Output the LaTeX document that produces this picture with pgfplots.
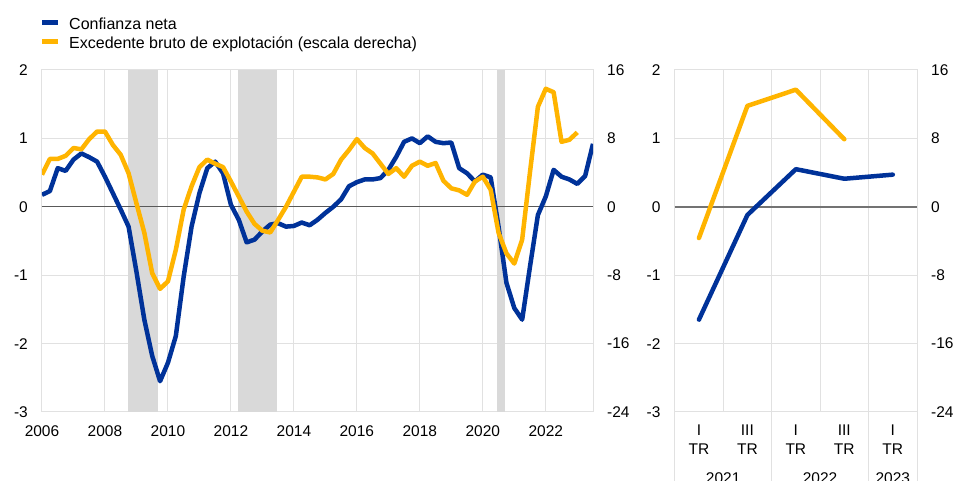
\documentclass[border=0pt]{standalone}
\usepackage{pgfplots}
\pgfplotsset{compat=1.18}
\usepackage{fontspec}
\setmainfont{Liberation Sans}
\definecolor{ecbblue}{HTML}{003299}
\definecolor{ecbyellow}{HTML}{FFB400}
\definecolor{gridgray}{HTML}{E1E1E1}
\definecolor{shadegray}{HTML}{D9D9D9}
\definecolor{zerogray}{HTML}{595959}
\definecolor{zerogray2}{HTML}{737373}

\pgfplotstableread{
x y
2006.00 0.175
2006.25 0.23
2006.50 0.565
2006.75 0.525
2007.00 0.69
2007.25 0.78
2007.50 0.725
2007.75 0.66
2008.00 0.44
2008.25 0.20
2008.50 -0.04
2008.75 -0.29
2009.00 -0.95
2009.25 -1.65
2009.50 -2.18
2009.75 -2.55
2010.00 -2.28
2010.25 -1.89
2010.50 -1.02
2010.75 -0.29
2011.00 0.20
2011.25 0.565
2011.50 0.66
2011.75 0.49
2012.00 0.03
2012.25 -0.19
2012.50 -0.52
2012.75 -0.48
2013.00 -0.36
2013.25 -0.26
2013.50 -0.24
2013.75 -0.29
2014.00 -0.28
2014.25 -0.23
2014.50 -0.27
2014.75 -0.19
2015.00 -0.09
2015.25 0.0
2015.50 0.11
2015.75 0.30
2016.00 0.36
2016.25 0.40
2016.50 0.40
2016.75 0.42
2017.00 0.54
2017.25 0.73
2017.50 0.95
2017.75 1.00
2018.00 0.93
2018.25 1.03
2018.50 0.95
2018.75 0.93
2019.00 0.94
2019.25 0.565
2019.50 0.49
2019.75 0.37
2020.00 0.47
2020.25 0.43
2020.50 -0.29
2020.75 -1.11
2021.00 -1.48
2021.25 -1.65
2021.50 -0.87
2021.75 -0.12
2022.00 0.15
2022.25 0.54
2022.50 0.44
2022.75 0.40
2023.00 0.335
2023.25 0.45
2023.50 0.92
}\confianza

\pgfplotstableread{
x y
2006.00 3.76
2006.25 5.6
2006.50 5.6
2006.75 5.96
2007.00 6.88
2007.25 6.72
2007.50 7.92
2007.75 8.8
2008.00 8.8
2008.25 7.24
2008.50 6.08
2008.75 3.92
2009.00 0.4
2009.25 -3.04
2009.50 -7.76
2009.75 -9.6
2010.00 -8.72
2010.25 -5.04
2010.50 -0.32
2010.75 2.4
2011.00 4.64
2011.25 5.52
2011.50 5.04
2011.75 4.64
2012.00 2.96
2012.25 1.2
2012.50 -0.56
2012.75 -2.0
2013.00 -2.8
2013.25 -3.0
2013.50 -1.52
2013.75 0.0
2014.00 1.76
2014.25 3.52
2014.50 3.52
2014.75 3.44
2015.00 3.2
2015.25 3.84
2015.50 5.52
2015.75 6.64
2016.00 7.92
2016.25 6.88
2016.50 6.24
2016.75 5.04
2017.00 3.84
2017.25 4.52
2017.50 3.52
2017.75 4.8
2018.00 5.28
2018.25 4.8
2018.50 5.12
2018.75 3.04
2019.00 2.16
2019.25 1.92
2019.50 1.4
2019.75 2.96
2020.00 3.52
2020.25 2.0
2020.50 -3.04
2020.75 -5.44
2021.00 -6.64
2021.25 -3.84
2021.50 4.1
2021.75 11.7
2022.00 13.8
2022.25 13.4
2022.50 7.6
2022.75 7.84
2023.00 8.7
}\excedente

\pgfplotstableread{
x y
0 -1.65
1 -0.12
2 0.55
3 0.41
4 0.47
}\confq

\pgfplotstableread{
x y
0 -3.66
1 11.8
2 13.7
3 7.9
}\excq

\tikzset{myfont/.style={font=\fontsize{15.5}{18.6}\selectfont},
         legfont/.style={font=\fontsize{16}{19}\selectfont}}
\pgfplotsset{
  common/.style={
    scale only axis, height=342pt,
    ymin=-3, ymax=2, ytick={-3,-2,...,2},
    major tick length=0pt, minor tick length=0pt,
    /pgf/number format/1000 sep={},
    /pgf/number format/assume math mode=true,
    tick label style={myfont, inner sep=0pt},
    axis line style={gridgray, line width=1pt},
    major grid style={gridgray, line width=1pt},
    minor grid style={gridgray, line width=1pt},
    xticklabel style={anchor=north, yshift=-13pt},
    yticklabel style={anchor=east, xshift=-14pt},
  },
  twin/.style={
    scale only axis, height=342pt,
    ymin=-24, ymax=16, ytick={-24,-16,...,16},
    axis x line=none, axis y line*=right,
    y axis line style={draw=none},
    major tick length=0pt,
    /pgf/number format/assume math mode=true,
    tick label style={myfont, inner sep=0pt},
    yticklabel style={anchor=west, xshift=14pt},
  },
}

\begin{document}
\begin{tikzpicture}
\useasboundingbox (0,0) rectangle (956pt,481pt);

% legend
\fill[ecbblue] (42pt,456pt) rectangle (58pt,461pt);
\node[anchor=base west, inner sep=0pt, legfont] at (69pt,451.7pt) {Confianza neta};
\fill[ecbyellow] (42pt,436.7pt) rectangle (58pt,441.7pt);
\node[anchor=base west, inner sep=0pt, legfont] at (69pt,432.5pt) {Excedente bruto de explotación (escala derecha)};

% left panel
\begin{axis}[common,
  at={(42pt,69pt)}, anchor=south west, width=551pt,
  xmin=2006, xmax=2023.5, xtick={2006,2008,...,2022},
  xmajorgrids=true, ymajorgrids=true]
\addplot[fill=shadegray, draw=none] coordinates {(2008.72,-3) (2008.72,2) (2009.69,2) (2009.69,-3)} -- cycle;
\addplot[fill=shadegray, draw=none] coordinates {(2012.21,-3) (2012.21,2) (2013.45,2) (2013.45,-3)} -- cycle;
\addplot[fill=shadegray, draw=none] coordinates {(2020.44,-3) (2020.44,2) (2020.70,2) (2020.70,-3)} -- cycle;
\addplot[zerogray, line width=0.9pt] coordinates {(2006,0) (2023.5,0)};
\addplot[ecbblue, line width=4.5pt, line join=round] table[x=x,y=y] {\confianza};
\end{axis}
\begin{axis}[twin,
  at={(42pt,69pt)}, anchor=south west, width=551pt,
  xmin=2006, xmax=2023.5]
\addplot[ecbyellow, line width=4.5pt, line join=round] table[x=x,y=y] {\excedente};
\end{axis}

% right panel
\begin{axis}[common,
  at={(674.7pt,69pt)}, anchor=south west, width=242.3pt,
  xmin=-0.5, xmax=4.5, xtick={0,1,2,3,4},
  xticklabels={{I\\TR},{III\\TR},{I\\TR},{III\\TR},{I\\TR}},
  xticklabel style={align=center},
  minor xtick={0.5,1.5,2.5,3.5},
  xmajorgrids=false, xminorgrids=true, ymajorgrids=true,
  clip=false]
\addplot[zerogray2, line width=1.8pt] coordinates {(-0.5,0) (4.5,0)};
\addplot[ecbblue, line width=4.5pt, line join=round, line cap=round] table[x=x,y=y] {\confq};
\draw[gridgray, line width=1pt] (axis cs:-0.5,-3) -- ++(0pt,-80pt);
\draw[gridgray, line width=1pt] (axis cs:1.5,-3) -- ++(0pt,-80pt);
\draw[gridgray, line width=1pt] (axis cs:3.5,-3) -- ++(0pt,-80pt);
\draw[gridgray, line width=1pt] (axis cs:4.5,-3) -- ++(0pt,-80pt);
\node[myfont] at (axis cs:0.5,-3) [yshift=-66.5pt] {2021};
\node[myfont] at (axis cs:2.5,-3) [yshift=-66.5pt] {2022};
\node[myfont] at (axis cs:4,-3) [yshift=-66.5pt] {2023};
\end{axis}
\begin{axis}[twin,
  at={(674.7pt,69pt)}, anchor=south west, width=242.3pt,
  xmin=-0.5, xmax=4.5, clip=false]
\addplot[ecbyellow, line width=4.5pt, line join=round, line cap=round] table[x=x,y=y] {\excq};
\end{axis}
\end{tikzpicture}
\end{document}
